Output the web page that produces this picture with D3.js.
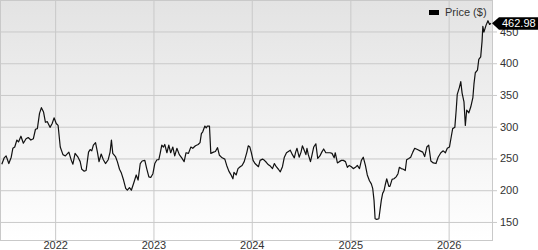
<!DOCTYPE html>
<html>
<head>
<meta charset="utf-8">
<script src="https://cdn.jsdelivr.net/npm/d3@7"></script>
<style>
  body { margin: 0; background: #fff; }
  svg { display: block; font-family: "Liberation Sans", Arial, sans-serif; }
</style>
</head>
<body>
<div id="chart"></div>
<script>
// data
var dates = [
  '2021-06-17','2021-06-26','2021-07-03','2021-07-13','2021-07-22','2021-07-28','2021-08-04','2021-08-12','2021-08-18','2021-08-27',
  '2021-09-05','2021-09-15','2021-09-23','2021-10-03','2021-10-12','2021-10-20','2021-10-27','2021-11-04','2021-11-11','2021-11-19',
  '2021-11-26','2021-12-03','2021-12-13','2021-12-21','2021-12-28','2022-01-05','2022-01-12','2022-01-20','2022-01-30','2022-02-08',
  '2022-02-21','2022-03-02','2022-03-08','2022-03-16','2022-03-27','2022-04-04','2022-04-10','2022-04-19','2022-04-26','2022-05-05',
  '2022-05-11','2022-05-17','2022-05-23','2022-05-31','2022-06-07','2022-06-13','2022-06-21','2022-06-29','2022-07-07','2022-07-17',
  '2022-07-24','2022-07-29','2022-08-03','2022-08-13','2022-08-20','2022-08-28','2022-09-04','2022-09-12','2022-09-20','2022-09-26',
  '2022-10-04','2022-10-11','2022-10-21','2022-10-29','2022-11-05','2022-11-13','2022-11-20','2022-11-30','2022-12-07','2022-12-15',
  '2022-12-22','2022-12-30','2023-01-06','2023-01-14','2023-01-21','2023-01-26','2023-02-01','2023-02-07','2023-02-12','2023-02-20',
  '2023-02-27','2023-03-06','2023-03-14','2023-03-21','2023-03-29','2023-04-07','2023-04-16','2023-04-25','2023-05-02','2023-05-11',
  '2023-05-20','2023-05-27','2023-06-06','2023-06-16','2023-06-23','2023-06-28','2023-07-03','2023-07-11','2023-07-16','2023-07-20',
  '2023-07-28','2023-08-02','2023-08-12','2023-08-19','2023-08-27','2023-09-03','2023-09-13','2023-09-23','2023-09-30','2023-10-08',
  '2023-10-15','2023-10-23','2023-10-27','2023-11-04','2023-11-11','2023-11-19','2023-11-26','2023-12-04','2023-12-14','2023-12-19',
  '2023-12-25','2023-12-30','2024-01-06','2024-01-13','2024-01-21','2024-01-26','2024-02-01','2024-02-10','2024-02-17','2024-02-24',
  '2024-03-03','2024-03-10','2024-03-18','2024-03-25','2024-04-01','2024-04-09','2024-04-16','2024-04-24','2024-05-01','2024-05-09',
  '2024-05-16','2024-05-23','2024-05-31','2024-06-07','2024-06-12','2024-06-17','2024-06-25','2024-07-02','2024-07-07','2024-07-12',
  '2024-07-20','2024-07-24','2024-07-29','2024-08-06','2024-08-11','2024-08-18','2024-08-26','2024-09-02','2024-09-10','2024-09-17',
  '2024-09-24','2024-10-02','2024-10-09','2024-10-18','2024-10-25','2024-11-02','2024-11-06','2024-11-14','2024-11-21','2024-11-29',
  '2024-12-06','2024-12-14','2024-12-21','2024-12-28','2025-01-05','2025-01-12','2025-01-20','2025-01-27','2025-02-04','2025-02-11',
  '2025-02-18','2025-02-26','2025-03-05','2025-03-13','2025-03-20','2025-03-25','2025-03-30','2025-04-03','2025-04-09','2025-04-17',
  '2025-04-21','2025-04-26','2025-05-01','2025-05-06','2025-05-11','2025-05-16','2025-05-24','2025-05-28','2025-06-05','2025-06-12',
  '2025-06-20','2025-06-27','2025-07-02','2025-07-09','2025-07-17','2025-07-24','2025-07-29','2025-08-06','2025-08-13','2025-08-21',
  '2025-08-28','2025-09-07','2025-09-17','2025-09-27','2025-10-04','2025-10-12','2025-10-19','2025-10-27','2025-11-05','2025-11-15',
  '2025-11-23','2025-12-03','2025-12-12','2025-12-20','2025-12-27','2026-01-04','2026-01-11','2026-01-16','2026-01-24','2026-01-29',
  '2026-02-02','2026-02-10','2026-02-15','2026-02-20','2026-02-27','2026-03-04','2026-03-09','2026-03-17','2026-03-24','2026-04-01',
  '2026-04-05','2026-04-10','2026-04-18','2026-04-23','2026-04-30','2026-05-05','2026-05-08','2026-05-12','2026-05-20','2026-05-27',
  '2026-06-02','2026-06-07'
];

var prices = [
  241,251,254,242,252,266,268,279,276,285,
  274,281,283,279,281,296,297,321,330,323,
  307,308,299,305,314,305,302,268,256,254,
  260,247,241,258,252,245,233,230,231,260,
  264,262,271,275,260,245,257,248,242,248,
  260,279,258,253,245,233,227,216,203,200,
  204,200,213,224,216,242,246,247,234,221,
  220,226,242,248,248,258,271,268,272,259,
  271,259,268,254,266,256,251,245,259,258,
  268,266,270,272,275,289,292,301,298,301,
  301,258,260,261,267,255,251,249,239,230,
  225,218,228,224,234,237,239,245,260,270,
  268,260,247,242,239,237,247,249,247,244,
  240,238,234,242,237,233,229,237,252,259,
  261,263,256,251,260,266,252,260,270,265,
  256,266,256,245,254,268,273,250,254,260,
  265,259,259,259,258,251,259,243,245,247,
  247,245,236,239,237,234,236,239,234,247,
  252,239,224,215,210,203,184,155,154,155,
  168,184,195,199,209,218,206,206,217,218,
  221,226,236,234,233,231,248,250,252,260,
  266,264,262,260,253,268,271,246,243,242,
  252,259,262,259,266,268,285,297,299,326,
  351,362,371,353,339,302,326,322,331,346,
  367,385,389,406,410,434,458,449,460,467,
  461,462.98
];

var yTicks = [150, 200, 250, 300, 350, 400, 450];
var xTicks = ['2022-01-01', '2023-01-01', '2024-01-01', '2025-01-01', '2026-01-01'];
var seriesName = 'Price ($)';

// config
var width  = 538
  , height = 250
  , plot   = { left: 1, right: 492, top: 1, bottom: 241 }
  , gridColor = '#c9c9c9'
  , textColor = '#333'
;

var parse = d3.timeParse('%Y-%m-%d');
var data = dates.map(function (d, i) { return { date: parse(d), value: prices[i] }; });

var x = d3.scaleTime()
    .domain([parse('2021-06-14'), parse('2026-06-11')])
    .range([plot.left, plot.right]);

var y = d3.scaleLinear()
    .domain([120, 498])
    .range([plot.bottom, plot.top]);

var svg = d3.select('#chart').append('svg')
    .attr('width', width)
    .attr('height', height);

// background gradient
var grad = svg.append('defs').append('linearGradient')
    .attr('id', 'bg')
    .attr('x1', 0).attr('y1', 0).attr('x2', 0).attr('y2', 1);
grad.append('stop').attr('offset', '0%').attr('stop-color', '#e3e3e3');
grad.append('stop').attr('offset', '100%').attr('stop-color', '#ffffff');

svg.append('rect')
    .attr('x', plot.left)
    .attr('y', plot.top)
    .attr('width', plot.right - plot.left)
    .attr('height', plot.bottom - plot.top)
    .attr('fill', 'url(#bg)');

// horizontal grid + right axis
var yAxis = d3.axisRight(y)
    .tickValues(yTicks)
    .tickSize(-(plot.right - plot.left))
    .tickPadding(0);

var yg = svg.append('g')
    .attr('transform', 'translate(' + plot.right + ',0)')
    .call(yAxis);
yg.select('.domain').remove();
yg.selectAll('line').attr('stroke', gridColor).attr('x2', 5);
yg.selectAll('.tick line').attr('x1', -(plot.right - plot.left));
yg.selectAll('text')
    .attr('x', 8)
    .attr('fill', textColor)
    .style('font-size', '11px')
    .style('font-family', '"Liberation Sans", Arial, sans-serif');

// vertical grid + bottom labels
var xAxis = d3.axisBottom(x)
    .tickValues(xTicks.map(parse))
    .tickFormat(d3.timeFormat('%Y'))
    .tickSize(-(plot.bottom - plot.top));

var xg = svg.append('g')
    .attr('transform', 'translate(0,' + plot.bottom + ')')
    .call(xAxis);
xg.select('.domain').remove();
xg.selectAll('line').attr('stroke', gridColor);
xg.selectAll('text')
    .attr('fill', textColor)
    .attr('y', 8)
    .attr('dy', 0)
    .style('font-size', '11px')
    .style('font-family', '"Liberation Sans", Arial, sans-serif');

// plot frame
svg.append('rect')
    .attr('x', plot.left - 0.5)
    .attr('y', plot.top - 0.5)
    .attr('width', plot.right - plot.left + 1)
    .attr('height', plot.bottom - plot.top)
    .attr('fill', 'none')
    .attr('stroke', gridColor);

// price line
var line = d3.line()
    .x(function (d) { return x(d.date); })
    .y(function (d) { return y(d.value); });

svg.append('path')
    .datum(data)
    .attr('fill', 'none')
    .attr('stroke', '#111')
    .attr('stroke-width', 1.2)
    .attr('stroke-linejoin', 'round')
    .attr('d', line);

// last value tag
var last = data[data.length - 1];
var ty = y(last.value);
svg.append('path')
    .attr('d', 'M' + (plot.right) + ',' + ty + 'L' + (plot.right + 7) + ',' + (ty - 6) +
      'L' + width + ',' + (ty - 6) + 'L' + width + ',' + (ty + 6.5) + 'L' + (plot.right + 7) + ',' + (ty + 6.5) + 'Z')
    .attr('fill', '#000');
svg.append('text')
    .attr('x', plot.right + 10)
    .attr('y', ty)
    .attr('dy', '0.35em')
    .attr('fill', '#fff')
    .style('font-size', '11px')
    .text(d3.format('.2f')(last.value));

// legend
var legend = svg.append('g').attr('transform', 'translate(429,10)');
legend.append('rect')
    .attr('width', 10)
    .attr('height', 5)
    .attr('fill', '#000');
legend.append('text')
    .attr('x', 16)
    .attr('y', 2.5)
    .attr('dy', '0.35em')
    .attr('fill', textColor)
    .style('font-size', '11px')
    .text(seriesName);
</script>
</body>
</html>
